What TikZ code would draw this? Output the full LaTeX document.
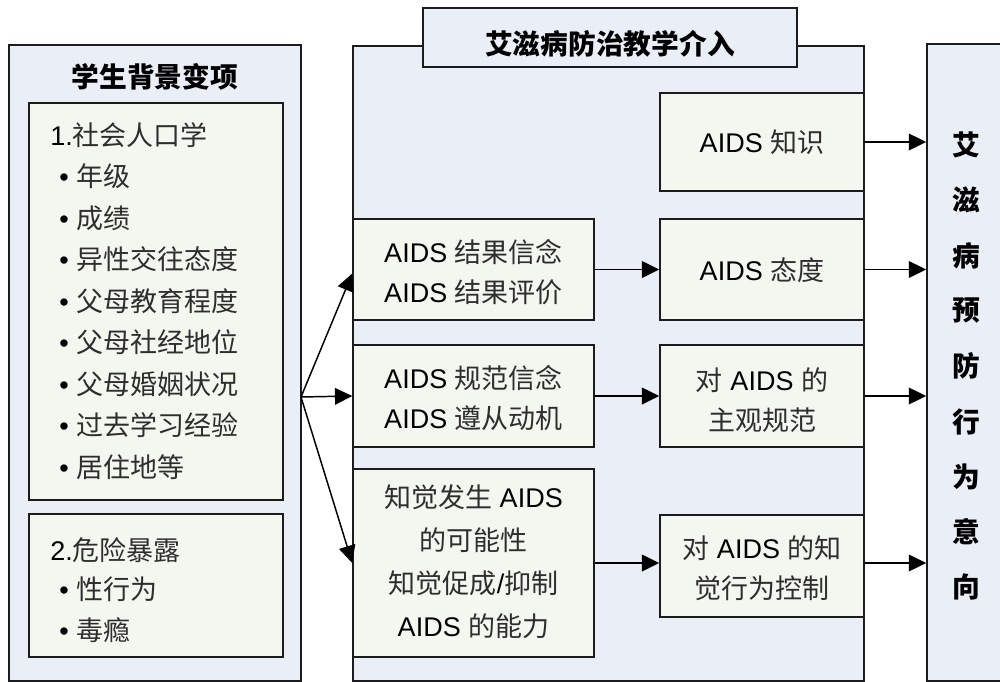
\documentclass[tikz,border=0pt]{standalone}
\usepackage{fontspec}
\setmainfont{Liberation Sans}
\newfontfamily\cjk{Noto Sans CJK SC}
\usetikzlibrary{arrows.meta,fit}
\definecolor{panelfill}{RGB}{234,239,247}
\definecolor{boxfill}{RGB}{244,247,239}
\definecolor{edgecol}{RGB}{28,28,28}
\newcommand\bodyfont{\fontsize{20.25}{30}\selectfont}
\newcommand\headfont{\fontsize{20.8}{30}\selectfont\cjk\bfseries}
\newcommand\cj[1]{{\cjk\color{black!82}#1}}
\begin{document}
\begin{tikzpicture}[x=0.75pt,y=-0.75pt,
  panel/.style={draw=edgecol,line width=1.2pt,fill=panelfill,inner sep=0pt},
  inbox/.style={draw=edgecol,line width=1.1pt,fill=boxfill,inner sep=0pt},
  txt/.style={inner sep=0pt,align=center,font=\bodyfont},
  item/.style={anchor=west,inner sep=0pt,font=\bodyfont},
  head/.style={inner sep=0pt,font=\headfont},
  arr/.style={-{Triangle[length=13pt,width=12.5pt]},line width=1.1pt,draw=black}]
\useasboundingbox (0,0) rectangle (1000,682);
\clip (0,0) rectangle (1000,682);
% panels
\node[panel,fit={(9,45)(301,681)}] (L) {};
\node[panel,fit={(353,46)(864,681)}] (M) {};
\node[panel,fit={(927,44)(1007,681)}] (R) {};
\node[panel,fit={(423,8)(797,67)}] (T) {};
\node[head] (ttl) at (610,44) {艾滋病防治教学介入};
\node[head] (ltl) at (155,77) {学生背景变项};
% left inner boxes
\node[inbox,fit={(29,103)(283,500)}] (b1) {};
\node[inbox,fit={(29,514)(283,657)}] (b2) {};
\node[item] (h1) at (50,135) {1.\cj{社会人口学}};
\node[item] (i1) at (59,176.5) {• \cj{年级}};
\node[item] (i2) at (59,218) {• \cj{成绩}};
\node[item] (i3) at (59,259.5) {• \cj{异性交往态度}};
\node[item] (i4) at (59,301) {• \cj{父母教育程度}};
\node[item] (i5) at (59,342.5) {• \cj{父母社经地位}};
\node[item] (i6) at (59,384) {• \cj{父母婚姻状况}};
\node[item] (i7) at (59,425.5) {• \cj{过去学习经验}};
\node[item] (i8) at (59,467) {• \cj{居住地等}};
\node[item] (h2) at (50,550) {2.\cj{危险暴露}};
\node[item] (j1) at (59,589) {• \cj{性行为}};
\node[item] (j2) at (59,630) {• \cj{毒瘾}};
% middle boxes
\node[inbox,fit={(353,219)(594,320)}] (A) {};
\node[inbox,fit={(353,345)(594,447)}] (B) {};
\node[inbox,fit={(353,469)(594,657)}] (C) {};
\node[inbox,fit={(660,93)(864,191)}] (know) {};
\node[inbox,fit={(660,219)(864,320)}] (att) {};
\node[inbox,fit={(660,345)(864,447)}] (norm) {};
\node[inbox,fit={(660,515)(864,617)}] (ctrl) {};
\node[txt] (At) at (473.5,272) {AIDS \cj{结果信念}\\AIDS \cj{结果评价}};
\node[txt] (Bt) at (473.5,398) {AIDS \cj{规范信念}\\AIDS \cj{遵从动机}};
\node[txt,font=\fontsize{20.25}{32.2}\selectfont] (Ct) at (473.5,562) {\cj{知觉发生} AIDS\\\cj{的可能性}\\\cj{知觉促成}/\cj{抑制}\\AIDS \cj{的能力}};
\node[txt] (knowt) at (762,142) {AIDS \cj{知识}};
\node[txt] (attt) at (762,270) {AIDS \cj{态度}};
\node[txt] (normt) at (762,400) {\cj{对} AIDS \cj{的}\\\cj{主观规范}};
\node[txt] (ctrlt) at (762,568) {\cj{对} AIDS \cj{的知}\\\cj{觉行为控制}};
% right column text
\foreach \c [count=\i from 0] in {艾,滋,病,预,防,行,为,意,向}
  \node[head] (r\i) at (966,145+55.3*\i) {\c};
% arrows
\coordinate (fan) at (301,397);
\draw[arr] (fan) -- ([yshift=-3pt]A.west);
\draw[arr] (fan) -- (B.west);
\draw[arr] (fan) -- (C.west);
\draw[arr] (A.east) -- (att.west);
\draw[arr] (B.east) -- (norm.west);
\draw[arr] (C.east) -- (C.east -| ctrl.west);
\draw[arr] (know.east) -- (know.east -| R.west);
\draw[arr] (att.east) -- (att.east -| R.west);
\draw[arr] (norm.east) -- (norm.east -| R.west);
\draw[arr] (C.east -| ctrl.east) -- (C.east -| R.west);
\end{tikzpicture}
\end{document}
